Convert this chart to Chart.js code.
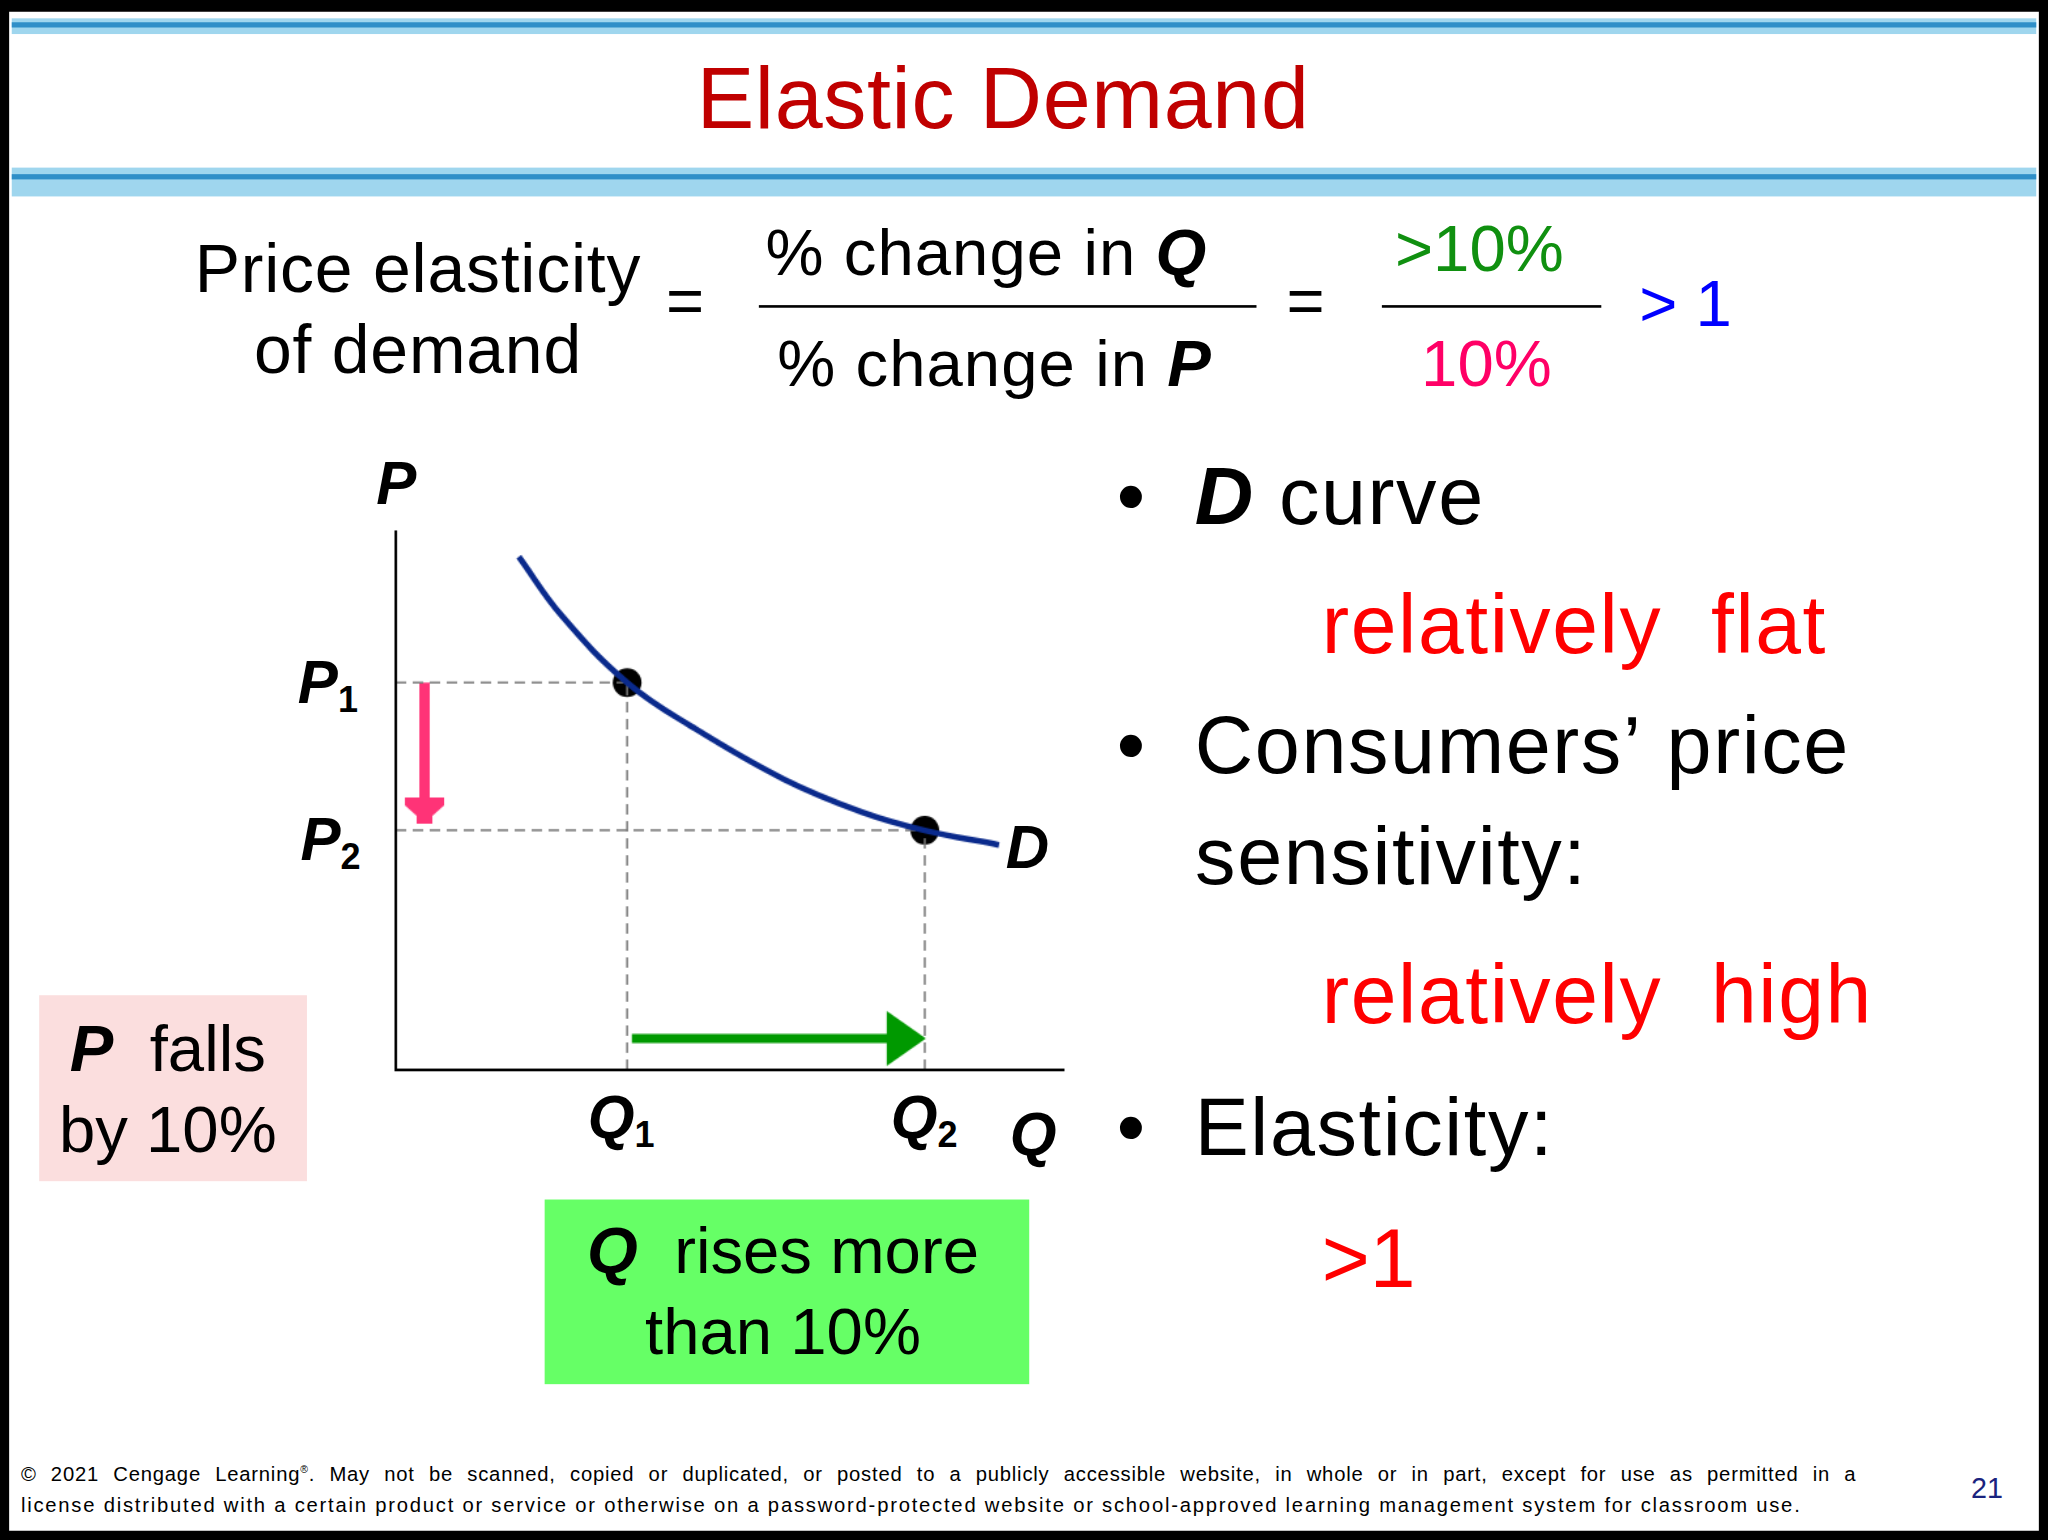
<!DOCTYPE html>
<html><head><meta charset="utf-8">
<script src="https://cdn.jsdelivr.net/npm/chart.js@4"></script>
<style>
html,body{margin:0;padding:0;background:#fff;overflow:hidden}
#wrap{position:absolute;left:0;top:0;width:1568px;height:1176px;transform:scale(1.30612,1.30952);transform-origin:0 0;font-family:"Liberation Sans",Arial,sans-serif;background:#fff}
.t{position:absolute;white-space:nowrap;line-height:1}
.b{font-weight:bold;font-style:italic}
sub{font-size:60%;vertical-align:-0.25em;font-style:normal}
.r{letter-spacing:1.2px}
</style></head><body>
<div id="wrap">
<div style="position:absolute;left:0;top:0;width:1568px;height:1176px;box-sizing:border-box;border:7px solid #000;border-top-width:9px"></div>
<div style="position:absolute;left:9px;top:14px;width:1550px;height:12px;background:#9fd6ee"></div>
<div style="position:absolute;left:9px;top:17px;width:1550px;height:4px;background:#2f8fc8"></div>
<div style="position:absolute;left:9px;top:128px;width:1550px;height:22px;background:#9fd6ee"></div>
<div style="position:absolute;left:9px;top:133px;width:1550px;height:4px;background:#2f8fc8"></div>
<div class="t" style="left:0;width:1536px;text-align:center;top:42px;font-size:66px;letter-spacing:0.5px;color:#c00000">Elastic Demand</div>

<div class="t" style="left:140px;top:174px;font-size:52px;width:360px;text-align:center;line-height:62px;letter-spacing:0.6px">Price elasticity<br>of demand</div>
<div class="t" style="left:510px;top:205px;font-size:50px">=</div>
<div class="t" style="left:586px;top:168px;font-size:50px;letter-spacing:0.8px">% change in <span class="b">Q</span></div>
<div style="position:absolute;left:581px;top:233px;width:381px;height:2px;background:#000"></div>
<div class="t" style="left:595px;top:253px;font-size:50px;letter-spacing:0.8px">% change in <span class="b">P</span></div>
<div class="t" style="left:985px;top:205px;font-size:50px">=</div>
<div class="t" style="left:1068px;top:165px;font-size:50px;color:#109010">&gt;10%</div>
<div style="position:absolute;left:1058px;top:233px;width:168px;height:2px;background:#000"></div>
<div class="t" style="left:1088px;top:253px;font-size:50px;color:#ff0066">10%</div>
<div class="t" style="left:1255px;top:207px;font-size:50px;color:#0000ff">&gt; 1</div>

<div class="t b" style="left:288px;top:346px;font-size:46px">P</div>
<div class="t b" style="left:228px;top:498px;font-size:46px">P<sub>1</sub></div>
<div class="t b" style="left:230px;top:618px;font-size:46px">P<sub>2</sub></div>
<div class="t b" style="left:770px;top:624px;font-size:46px">D</div>
<div class="t b" style="left:450px;top:830px;font-size:46px">Q<sub>1</sub></div>
<div class="t b" style="left:682px;top:830px;font-size:46px">Q<sub>2</sub></div>
<div class="t b" style="left:773px;top:843px;font-size:46px">Q</div>

<div style="position:absolute;left:30px;top:760px;width:205px;height:142px;background:#fbdede"></div>
<div class="t" style="left:26px;top:770px;width:205px;text-align:center;font-size:50px;line-height:62px"><span class="b">P</span>&nbsp; falls<br>by 10%</div>
<div style="position:absolute;left:417px;top:916px;width:371px;height:141px;background:#66ff66"></div>
<div class="t" style="left:414px;top:924px;width:371px;text-align:center;font-size:50px;line-height:62px"><span class="b">Q</span>&nbsp; rises more<br>than 10%</div>

<div class="t r" style="left:855px;top:348px;font-size:62px">•&nbsp; <span class="b">D</span> curve</div>
<div class="t r" style="left:1012px;top:446px;font-size:63px;color:#ff0000">relatively&nbsp; flat</div>
<div class="t r" style="left:855px;top:538px;font-size:62px">•&nbsp; Consumers’&nbsp;price</div>
<div class="t r" style="left:915px;top:623px;font-size:62px">sensitivity:</div>
<div class="t r" style="left:1012px;top:728px;font-size:63px;color:#ff0000">relatively&nbsp; high</div>
<div class="t r" style="left:855px;top:830px;font-size:62px">•&nbsp; Elasticity:</div>
<div class="t" style="left:1012px;top:930px;font-size:63px;color:#ff0000">&gt;1</div>

<div class="t" style="left:16px;top:1118px;font-size:15.5px;letter-spacing:0.6px;word-spacing:6px">© 2021 Cengage Learning<sup style="font-size:8px">®</sup>. May not be scanned, copied or duplicated, or posted to a publicly accessible website, in whole or in part, except for use as permitted in a</div>
<div class="t" style="left:16px;top:1142px;font-size:15.5px;letter-spacing:1.35px">license distributed with a certain product or service or otherwise on a password-protected website or school-approved learning management system for classroom use.</div>
<div class="t" style="left:1509px;top:1126px;font-size:22px;color:#1a237e">21</div>

<div style="position:absolute;left:283px;top:385px;width:552px;height:452px"><canvas id="c" width="552" height="452"></canvas></div>
</div>
<script>
const curveX=[18.4,24.8,34.6,44.3,58.0,69.7,79.1,90.2];
const curveY=[95.1,84.2,71.8,63.6,53.9,47.8,44.4,41.7];
const pointX=[34.6,79.1];
const pointY=[71.8,44.4];
const pinkArrowX=4.3, pinkArrowY=[71.8,50];
const greenArrowY=5.8, greenArrowX=[35.3,74];
const dashed=(pts)=>({type:'line',data:pts,borderColor:'#777',borderWidth:1.5,borderDash:[8,5],pointRadius:0,fill:false});
const ds=[
 {type:'line',data:curveX.map((x,i)=>({x,y:curveY[i]})),borderColor:'#0a2a8c',borderWidth:4.5,tension:0.4,pointRadius:0,fill:false},
 dashed([{x:0,y:pointY[0]},{x:pointX[0],y:pointY[0]}]),
 dashed([{x:0,y:pointY[1]},{x:pointX[1],y:pointY[1]}]),
 dashed([{x:pointX[0],y:0},{x:pointX[0],y:pointY[0]}]),
 dashed([{x:pointX[1],y:0},{x:pointX[1],y:pointY[1]}]),
 {type:'line',data:pinkArrowY.map(y=>({x:pinkArrowX,y})),borderColor:'#ff3377',borderWidth:8,pointRadius:0},
 {type:'line',data:greenArrowX.map(x=>({x,y:greenArrowY})),borderColor:'#009900',borderWidth:7,pointRadius:0},
 {type:'scatter',data:pointX.map((x,i)=>({x,y:pointY[i]})),backgroundColor:'#000',pointRadius:11,borderWidth:0}
];
const extras={id:'extras',afterDatasetsDraw(ch){const c=ch.ctx,a=ch.chartArea,xs=ch.scales.x,ys=ch.scales.y;
 c.save();c.strokeStyle='#000';c.lineWidth=2;c.beginPath();c.moveTo(a.left,a.top);c.lineTo(a.left,a.bottom);c.lineTo(a.right,a.bottom);c.stroke();
 let px=xs.getPixelForValue(pinkArrowX),py=ys.getPixelForValue(pinkArrowY[1]);
 c.fillStyle='#ff3377';c.beginPath();c.moveTo(px-15,py-2);c.lineTo(px+15,py-2);c.lineTo(px+15,py+4);c.lineTo(px+6,py+12);c.lineTo(px+6,py+18);c.lineTo(px-6,py+18);c.lineTo(px-6,py+12);c.lineTo(px-15,py+4);c.closePath();c.fill();
 let gx=xs.getPixelForValue(greenArrowX[1]),gy=ys.getPixelForValue(greenArrowY);
 c.fillStyle='#009900';c.beginPath();c.moveTo(gx-3,gy-21);c.lineTo(gx+27,gy);c.lineTo(gx-3,gy+21);c.closePath();c.fill();
 c.restore();}};
new Chart(document.getElementById('c'),{type:'scatter',data:{datasets:ds},plugins:[extras],
 options:{responsive:false,animation:false,layout:{padding:20},plugins:{legend:{display:false},tooltip:{enabled:false}},
 scales:{x:{type:'linear',min:0,max:100,display:false},y:{type:'linear',min:0,max:100,display:false}},clip:false}});
</script>
</body></html>
